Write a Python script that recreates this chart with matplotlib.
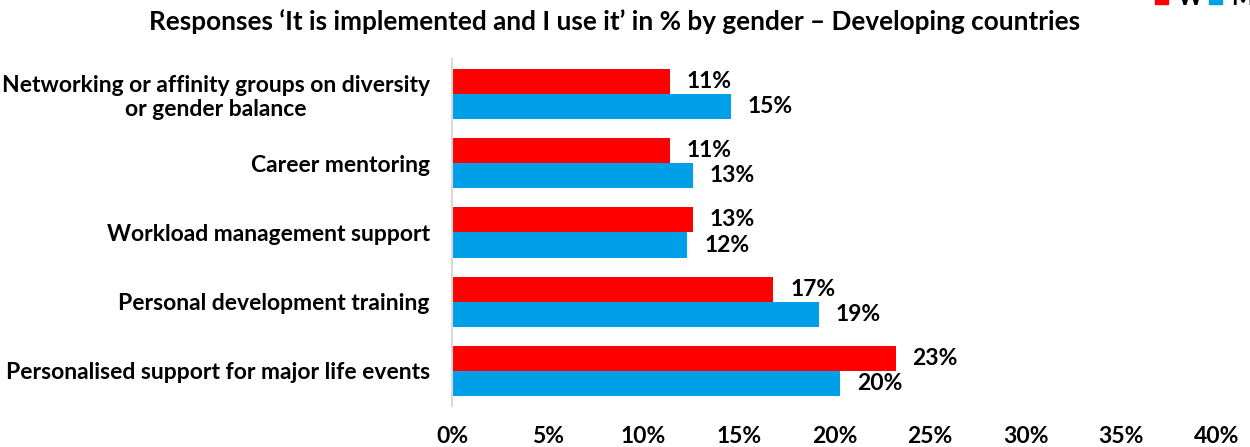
import numpy as np
import matplotlib.pyplot as plt
from matplotlib.patches import Patch

plt.rcParams['font.family'] = ['Lato', 'DejaVu Sans']
plt.rcParams['font.weight'] = 'bold'

categories = ['Networking or affinity groups on diversity\nor gender balance',
              'Career mentoring',
              'Workload management support',
              'Personal development training',
              'Personalised support for major life events']
women = [11.4, 11.4, 12.6, 16.8, 23.2]
men = [14.6, 12.6, 12.3, 19.2, 20.3]
xticks = [0, 5, 10, 15, 20, 25, 30, 35, 40]

red = '#ff0000'
blue = '#00a0e9'

fig = plt.figure(figsize=(12.5, 4.47), dpi=100)
ax = fig.add_axes([452 / 1250, 1 - 405.5 / 447, 765 / 1250, 346 / 447])

y = np.arange(len(categories))
h = 25 / 69
ax.barh(y - h / 2, women, height=h, color=red, label='W')
ax.barh(y + h / 2, men, height=h, color=blue, label='M')

# value labels just past the end of each bar
for yy, v in zip(y - h / 2, women):
    ax.text(v + 0.88, yy, '%.0f%%' % v, va='center', ha='left', fontsize=16.5, fontweight='bold')
for yy, v in zip(y + h / 2, men):
    ax.text(v + 0.88, yy, '%.0f%%' % v, va='center', ha='left', fontsize=16.5, fontweight='bold')

ax.set_ylim(len(categories) - 0.5, -0.5)
ax.set_xlim(0, 40)
ax.set_yticks(y)
ax.set_yticklabels(categories, fontsize=16.5, fontweight='bold', multialignment='center')
ax.set_xticks(xticks)
ax.set_xticklabels(['%d%%' % t for t in xticks], fontsize=16.5, fontweight='bold')
ax.tick_params(axis='y', length=0, pad=16)
ax.tick_params(axis='x', length=0, pad=15)

for s in ['top', 'right', 'bottom']:
    ax.spines[s].set_visible(False)
ax.spines['left'].set_color('#d9d9d9')
ax.spines['left'].set_linewidth(1.5)

fig.text(615 / 1250, 1 - 22 / 447, 'Responses ‘It is implemented and I use it’ in % by gender – Developing countries',
         ha='center', va='center', fontsize=18.8, fontweight='bold')

handles = [Patch(color=red), Patch(color=blue)]
fig.legend(handles, ['W', 'M'], loc='center left', ncol=2, frameon=False,
           bbox_to_anchor=(1155 / 1250, 1 + 2 / 447), fontsize=17,
           borderpad=0, borderaxespad=0,
           handlelength=0.55, handleheight=0.55, columnspacing=0.28, handletextpad=0.4)

fig.savefig('out.png', dpi=100)
